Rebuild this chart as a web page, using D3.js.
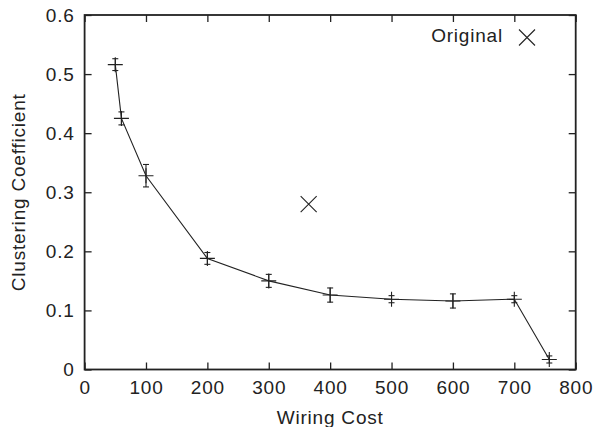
<!DOCTYPE html>
<html>
<head>
<meta charset="utf-8">
<script src="https://cdn.jsdelivr.net/npm/d3@7"></script>
<style>
  body { margin: 0; background: #fff; }
  svg text { font-family: "Liberation Sans", Arial, sans-serif; fill: #222; }
</style>
</head>
<body>
<svg id="chart" width="595" height="427"></svg>
<script>
// wiring cost vs clustering coefficient (mean, +/- error)
const wiringCost = [50, 60, 100, 200, 300, 400, 500, 600, 700, 757];
const clustering = [0.516, 0.425, 0.328, 0.188, 0.150, 0.126, 0.119, 0.116, 0.119, 0.017];
const clusteringErr = [0.010, 0.011, 0.019, 0.010, 0.011, 0.012, 0.006, 0.012, 0.006, 0.006];
const original = [{ cost: 365, coef: 0.28 }];
const xTicks = [0, 100, 200, 300, 400, 500, 600, 700, 800];
const yTicks = [0, 0.1, 0.2, 0.3, 0.4, 0.5, 0.6];

const W = 595, H = 427;
const margin = { top: 15, right: 19.3, bottom: 57.5, left: 84.6 };
const innerW = W - margin.left - margin.right;
const innerH = H - margin.top - margin.bottom;
const ink = '#222';
const fontSize = 19;
const spacing = '0.8px';

const svg = d3.select('#chart');
const g = svg.append('g').attr('transform', `translate(${margin.left},${margin.top})`);

const x = d3.scaleLinear().domain([0, 800]).range([0, innerW]);
const y = d3.scaleLinear().domain([0, 0.6]).range([innerH, 0]);

const fmtY = (d) => (d === 0 ? '0' : d3.format('.1f')(d));

const styleAxis = (sel) => {
  sel.select('.domain').remove();
  sel.selectAll('.tick line').attr('stroke', ink).attr('stroke-width', 1.3);
  sel.selectAll('.tick text')
    .attr('fill', ink)
    .style('font-size', fontSize + 'px')
    .style('letter-spacing', spacing);
};

g.append('g')
  .attr('transform', `translate(0,${innerH})`)
  .call(d3.axisBottom(x).tickValues(xTicks).tickSizeInner(-7).tickSizeOuter(0).tickPadding(11.5))
  .call(styleAxis);

g.append('g')
  .call(d3.axisLeft(y).tickValues(yTicks).tickFormat(fmtY).tickSizeInner(-7).tickSizeOuter(0).tickPadding(10))
  .call(styleAxis);

// mirrored ticks on top and right
g.append('g')
  .call(d3.axisTop(x).tickValues(xTicks).tickFormat('').tickSizeInner(-7).tickSizeOuter(0))
  .call(styleAxis);

g.append('g')
  .attr('transform', `translate(${innerW},0)`)
  .call(d3.axisRight(y).tickValues(yTicks).tickFormat('').tickSizeInner(-7).tickSizeOuter(0))
  .call(styleAxis);

// frame
g.append('rect')
  .attr('width', innerW)
  .attr('height', innerH)
  .attr('fill', 'none')
  .attr('stroke', ink)
  .attr('stroke-width', 1.8);

const series = wiringCost.map((c, i) => ({ cost: c, coef: clustering[i], err: clusteringErr[i] }));

// connecting line
g.append('path')
  .datum(series)
  .attr('fill', 'none')
  .attr('stroke', ink)
  .attr('stroke-width', 1.1)
  .attr('d', d3.line().x((d) => x(d.cost)).y((d) => y(d.coef)));

// error bars with caps
const errG = g.append('g').attr('stroke', ink).attr('stroke-width', 1.1);
series.forEach((d) => {
  const cx = x(d.cost);
  const y0 = y(d.coef - d.err);
  const y1 = y(d.coef + d.err);
  errG.append('line').attr('x1', cx).attr('x2', cx).attr('y1', y0).attr('y2', y1);
  errG.append('line').attr('x1', cx - 3).attr('x2', cx + 3).attr('y1', y0).attr('y2', y0);
  errG.append('line').attr('x1', cx - 3).attr('x2', cx + 3).attr('y1', y1).attr('y2', y1);
});

// plus markers
const plus = 7.5;
g.append('g')
  .selectAll('path')
  .data(series)
  .join('path')
  .attr('fill', 'none')
  .attr('stroke', ink)
  .attr('stroke-width', 1.1)
  .attr('d', (d) => {
    const cx = x(d.cost), cy = y(d.coef);
    return `M${cx - plus},${cy}H${cx + plus}M${cx},${cy - plus}V${cy + plus}`;
  });

// cross marker for the original network
const crossPath = (cx, cy, r) => `M${cx - r},${cy - r}L${cx + r},${cy + r}M${cx - r},${cy + r}L${cx + r},${cy - r}`;
g.append('g')
  .selectAll('path')
  .data(original)
  .join('path')
  .attr('fill', 'none')
  .attr('stroke', ink)
  .attr('stroke-width', 1.1)
  .attr('d', (d) => crossPath(x(d.cost), y(d.coef), 8));

// legend
svg.append('text')
  .attr('x', 503)
  .attr('y', 41.7)
  .attr('text-anchor', 'end')
  .style('font-size', fontSize + 'px')
  .style('letter-spacing', spacing)
  .text('Original');
svg.append('path')
  .attr('fill', 'none')
  .attr('stroke', ink)
  .attr('stroke-width', 1.1)
  .attr('d', crossPath(527, 37.5, 8));

// axis titles
svg.append('text')
  .attr('x', margin.left + innerW / 2)
  .attr('y', 424)
  .attr('text-anchor', 'middle')
  .style('font-size', fontSize + 'px')
  .style('letter-spacing', spacing)
  .text('Wiring Cost');

svg.append('text')
  .attr('transform', `translate(25,${margin.top + innerH / 2}) rotate(-90)`)
  .attr('text-anchor', 'middle')
  .style('font-size', fontSize + 'px')
  .style('letter-spacing', spacing)
  .text('Clustering Coefficient');
</script>
</body>
</html>
